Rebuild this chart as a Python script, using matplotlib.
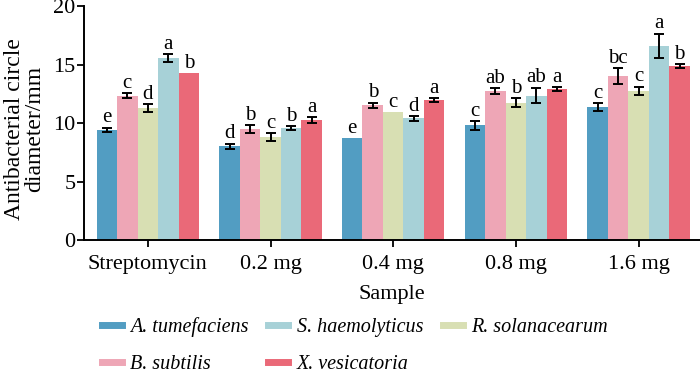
import matplotlib
matplotlib.use("Agg")
import matplotlib.pyplot as plt
from matplotlib.lines import Line2D
import numpy as np

plt.rcParams['font.family'] = ['Liberation Serif', 'DejaVu Serif']

categories = ["Streptomycin", "0.2 mg", "0.4 mg", "0.8 mg", "1.6 mg"]
series_names = ["A. tumefaciens", "B. subtilis", "R. solanacearum", "S. haemolyticus", "X. vesicatoria"]
colors = ["#529DC2", "#EEA6B6", "#D8DFB3", "#A7D1D7", "#EA6978"]

a_tum = [9.4, 8.0, 8.7, 9.8, 11.35]
b_sub = [12.35, 9.5, 11.5, 12.75, 14.0]
r_sol = [11.3, 8.8, 10.95, 11.75, 12.75]
s_hae = [15.55, 9.55, 10.4, 12.35, 16.6]
x_ves = [14.25, 10.25, 11.95, 12.9, 14.85]

a_err = [0.2, 0.25, 0.0, 0.36, 0.36]
b_err = [0.2, 0.34, 0.24, 0.24, 0.68]
r_err = [0.33, 0.34, 0.0, 0.36, 0.36]
s_err = [0.36, 0.17, 0.2, 0.68, 1.03]
x_err = [0.0, 0.28, 0.17, 0.14, 0.19]

a_let = ["e", "d", "e", "c", "c"]
b_let = ["c", "b", "b", "ab", "bc"]
r_let = ["d", "c", "c", "b", "c"]
s_let = ["a", "b", "d", "ab", "a"]
x_let = ["b", "a", "a", "a", "b"]

values = [a_tum, b_sub, r_sol, s_hae, x_ves]
errors = [a_err, b_err, r_err, s_err, x_err]
letters = [a_let, b_let, r_let, s_let, x_let]

fig = plt.figure(figsize=(7, 3.74), dpi=100)
ax = fig.add_axes([0.12, 0.358, 0.88, 0.626])

x = np.arange(len(categories))
w = 0.167
for i in range(5):
    pos = x + (i - 2) * w
    ax.bar(pos, values[i], width=w, color=colors[i], edgecolor='none')
    for j in range(len(categories)):
        v = values[i][j]; e = errors[i][j]
        if e > 0:
            ax.errorbar(pos[j], v, yerr=e, fmt='none', ecolor='black',
                        elinewidth=1.4, capsize=3.6, capthick=1.4)
        ax.text(pos[j], v + e + 0.02, letters[i][j], ha='center', va='bottom',
                fontsize=15)

ax.set_xlim(-0.52, 4.5)
ax.set_ylim(0, 20)
ax.set_yticks([0, 5, 10, 15, 20])
ax.set_xticks(x)
ax.set_xticklabels(categories)
for s in ['top', 'right']:
    ax.spines[s].set_visible(False)
for s in ['left', 'bottom']:
    ax.spines[s].set_linewidth(1.4)
ax.tick_params(axis='both', direction='out', length=5, width=1.3, labelsize=16)
ax.tick_params(axis='y', pad=1)
ax.tick_params(axis='x', pad=6)
ax.set_xlabel("Sample", fontsize=16, labelpad=8)

fig.text(0.035, 0.655, "Antibacterial circle\ndiameter/mm", rotation=90,
         ha='center', va='center', fontsize=17, linespacing=0.95)

order = [0, 1, 3, 4, 2]
handles = [Line2D([0], [0], color=colors[k], lw=5) for k in order]
labels = [series_names[k] for k in order]
fig.legend(handles, labels, loc='upper left', bbox_to_anchor=(0.145, 0.152),
           ncol=3, frameon=False, borderpad=0, borderaxespad=0,
           prop={'style': 'italic', 'size': 14.5}, handlelength=1.0,
           handletextpad=0.4, columnspacing=1.0, labelspacing=0.88)

fig.savefig("out.png", dpi=100)
